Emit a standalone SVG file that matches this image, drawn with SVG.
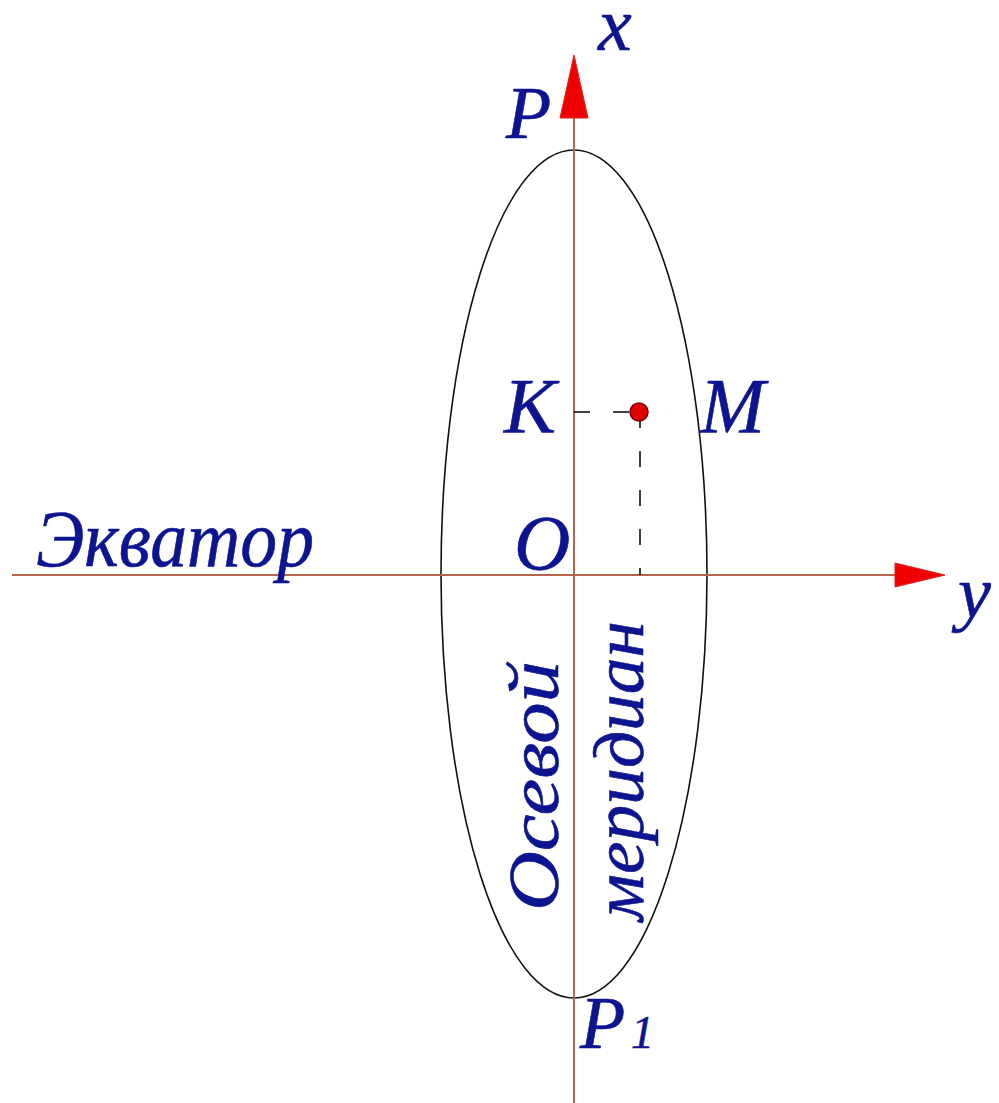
<svg xmlns="http://www.w3.org/2000/svg" width="999" height="1103" viewBox="0 0 999 1103">
<style>
.t{font-family:"Liberation Serif","Times New Roman",serif;font-style:italic;fill:#0c1490;stroke:#0c1490;stroke-width:0.6}
.ax{stroke:#b5654a;stroke-width:2;fill:none}
.ah{fill:#f00000;stroke:#e02020;stroke-width:1}
.dash{stroke:#000;stroke-width:1.5;stroke-dasharray:16,23;fill:none}
</style>
<rect width="999" height="1103" fill="#fff"/>
<g id="ellipse"><ellipse cx="574" cy="574" rx="133" ry="424" fill="none" stroke="#111" stroke-width="1.6"/></g>
<g id="connectors">
<line class="ax" x1="574" y1="100" x2="574" y2="1103"/>
<line class="ax" x1="12" y1="575" x2="910" y2="575"/>
<polygon class="ah" points="574,55 560,118 588,118"/>
<polygon class="ah" points="945,575 895,563 895,587"/>
<path class="dash" d="M574,412 H632"/>
<path class="dash" d="M640,412 V575"/>
</g>
<g id="point-M"><circle cx="639" cy="412" r="9" fill="#e00000" stroke="#800000" stroke-width="1.5"/></g>
<g id="labels">
<text class="t" x="598" y="50" font-size="76">x</text>
<text class="t" x="506" y="138" font-size="74">P</text>
<text class="t" x="504" y="432" font-size="78">K</text>
<text class="t" x="700" y="432" font-size="78">M</text>
<text class="t" x="514" y="569" font-size="78">O</text>
<text class="t" x="36" y="566" font-size="80" textLength="278" lengthAdjust="spacingAndGlyphs">Экватор</text>
<text class="t" x="958" y="617" font-size="74">y</text>
<text class="t" x="580" y="1048" font-size="74">P</text>
<text class="t" x="631" y="1048" font-size="46">1</text>
<text class="t" font-size="72" textLength="250" lengthAdjust="spacingAndGlyphs" transform="translate(558,911) rotate(-90)">Осевой</text>
<text class="t" font-size="72" textLength="300" lengthAdjust="spacingAndGlyphs" transform="translate(643,921) rotate(-90)">меридиан</text>
</g>
</svg>
